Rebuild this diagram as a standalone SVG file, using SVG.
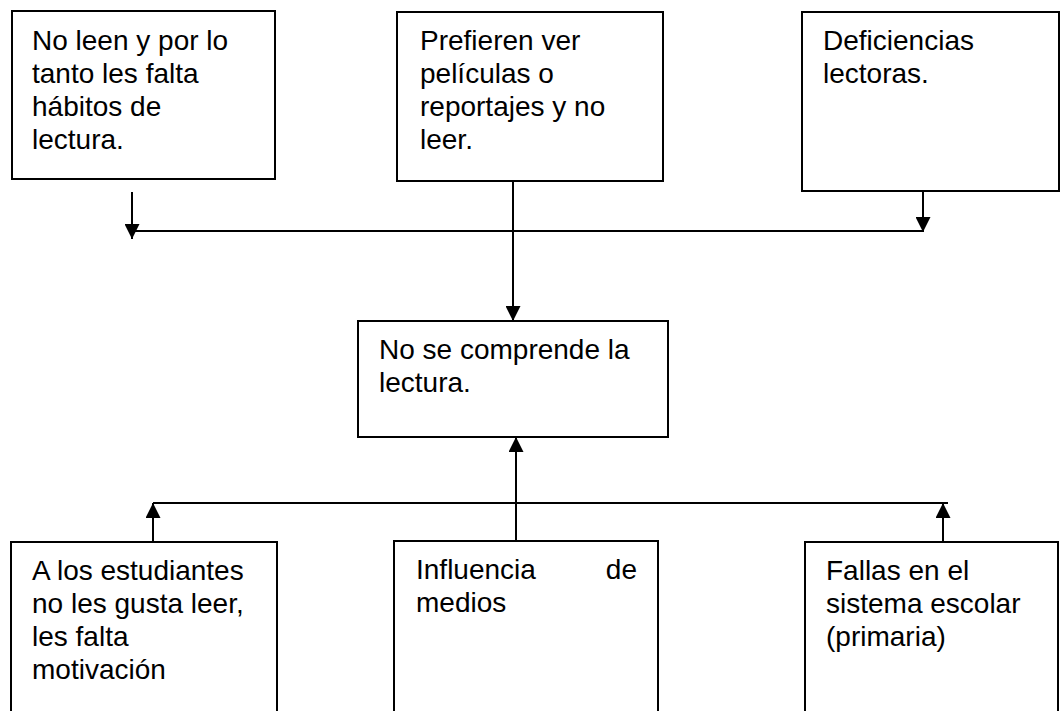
<svg xmlns="http://www.w3.org/2000/svg" width="1061" height="711" viewBox="0 0 1061 711">
<style>
.box{fill:#fff;stroke:#000;stroke-width:2}
.t{font-family:"Liberation Sans",Arial,sans-serif;font-size:28px;fill:#000}
.c{stroke:#000;stroke-width:2;fill:none}
</style>
<defs>
<marker id="ah" markerUnits="userSpaceOnUse" markerWidth="15" markerHeight="15" refX="15" refY="7.5" orient="auto">
<path d="M0,0 L15,7.5 L0,15 z" fill="#000"/>
</marker>
</defs>
<rect width="1061" height="711" fill="#fff"/>
<g id="connectors">
<line class="c" x1="132" y1="192" x2="132" y2="239" marker-end="url(#ah)"/>
<line class="c" x1="132" y1="231" x2="923" y2="231"/>
<line class="c" x1="513" y1="181" x2="513" y2="321" marker-end="url(#ah)"/>
<line class="c" x1="923" y1="191" x2="923" y2="232" marker-end="url(#ah)"/>
<line class="c" x1="153" y1="503" x2="948" y2="503"/>
<line class="c" x1="153" y1="542" x2="153" y2="503" marker-end="url(#ah)"/>
<line class="c" x1="516" y1="541" x2="516" y2="437" marker-end="url(#ah)"/>
<line class="c" x1="943" y1="542" x2="943" y2="503" marker-end="url(#ah)"/>
</g>
<g id="n1">
<rect class="box" x="12" y="11" width="263" height="168"/>
<text class="t" x="32" y="50">No leen y por lo</text>
<text class="t" x="32" y="83">tanto les falta</text>
<text class="t" x="32" y="116">hábitos de</text>
<text class="t" x="32" y="149">lectura.</text>
</g>
<g id="n2">
<rect class="box" x="397" y="12" width="266" height="169"/>
<text class="t" x="420" y="50">Prefieren ver</text>
<text class="t" x="420" y="83">películas o</text>
<text class="t" x="420" y="116">reportajes y no</text>
<text class="t" x="420" y="149">leer.</text>
</g>
<g id="n3">
<rect class="box" x="802" y="12" width="257" height="179"/>
<text class="t" x="823" y="50">Deficiencias</text>
<text class="t" x="823" y="83">lectoras.</text>
</g>
<g id="center">
<rect class="box" x="358" y="321" width="310" height="116"/>
<text class="t" x="379" y="359">No se comprende la</text>
<text class="t" x="379" y="392">lectura.</text>
</g>
<g id="b1">
<rect class="box" x="11" y="542" width="266" height="190"/>
<text class="t" x="32" y="580">A los estudiantes</text>
<text class="t" x="32" y="613">no les gusta leer,</text>
<text class="t" x="32" y="646">les falta</text>
<text class="t" x="32" y="679">motivación</text>
</g>
<g id="b2">
<rect class="box" x="394" y="541" width="264" height="190"/>
<text class="t" x="416" y="579">Influencia</text>
<text class="t" x="637" y="579" text-anchor="end">de</text>
<text class="t" x="416" y="612">medios</text>
</g>
<g id="b3">
<rect class="box" x="805" y="542" width="253" height="190"/>
<text class="t" x="826" y="580">Fallas en el</text>
<text class="t" x="826" y="613">sistema escolar</text>
<text class="t" x="826" y="646">(primaria)</text>
</g>
</svg>
